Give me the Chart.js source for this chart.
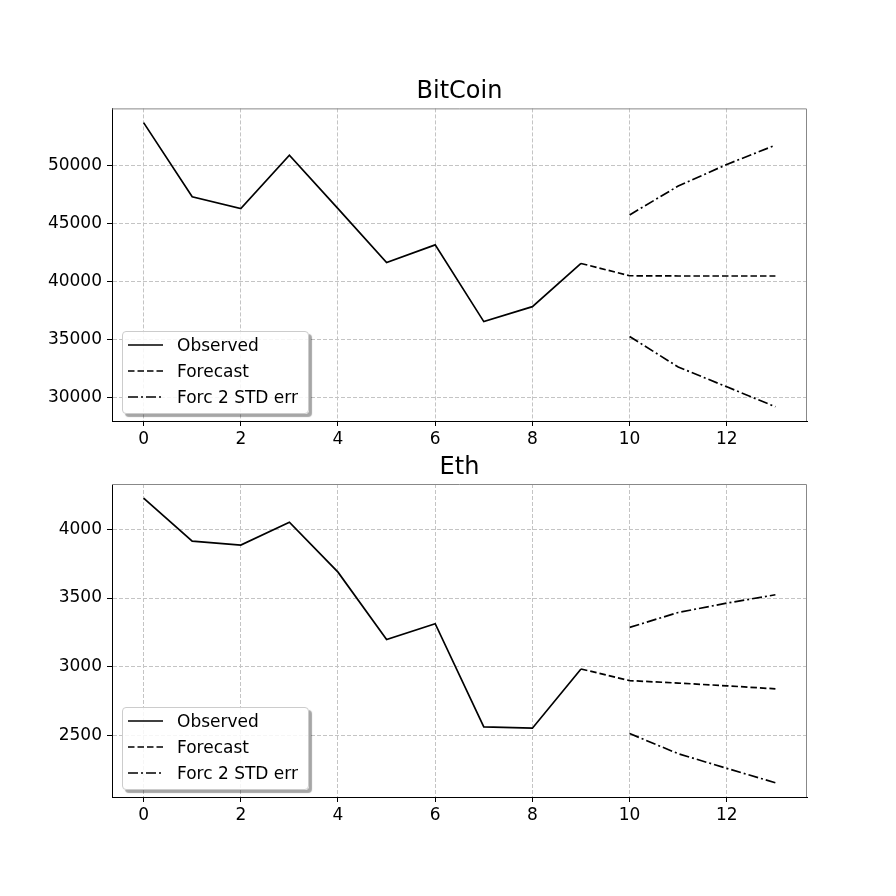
<!DOCTYPE html>
<html>
<head>
<meta charset="utf-8">
<script src="https://cdn.jsdelivr.net/npm/chart.js@4"></script>
<style>
  body { margin: 0; background: #fff; }
  #wrap { position: relative; width: 896px; height: 896px; }
  canvas { position: absolute; left: 0; }
  .legend { position: absolute; left: 122px; width: 187px; height: 83px; box-sizing: border-box;
    border: 1px solid #ccc; border-radius: 4px; background: rgba(255,255,255,0.85);
    box-shadow: 3px 3px 1px rgba(0,0,0,0.35); font: 17px 'DejaVu Sans'; color: #000; }
  .legend div { height: 26px; display: flex; align-items: center; white-space: nowrap; }
  .legend svg { margin-left: 5px; margin-right: 14px; }
</style>
</head>
<body>
<div id="wrap">
  <canvas id="btc" width="896" height="448" style="top:0"></canvas>
  <canvas id="eth" width="896" height="448" style="top:448px"></canvas>
  <div id="btcLegend" class="legend" style="top:331px"></div>
  <div id="ethLegend" class="legend" style="top:707px"></div>
</div>
<script>
// data
var xTicks = [0, 2, 4, 6, 8, 10, 12];
var obsSteps = [0, 1, 2, 3, 4, 5, 6, 7, 8, 9];
var forcSteps = [10, 11, 12, 13];

var btcObserved = [53665, 47280, 46250, 50860, 46250, 41610, 43130, 36520, 37810, 41530];
var btcForecast = [40470, 40450, 40450, 40450];
var btcUpper = [45710, 48200, 50060, 51720];
var btcLower = [35240, 32610, 30900, 29180];
var btcTicks = [30000, 35000, 40000, 45000, 50000];

var ethObserved = [4228, 3915, 3886, 4053, 3689, 3197, 3313, 2560, 2551, 2983];
var ethForecast = [2898, 2880, 2860, 2838];
var ethUpper = [3286, 3395, 3463, 3524];
var ethLower = [2512, 2365, 2258, 2153];
var ethTicks = [2500, 3000, 3500, 4000];

Chart.defaults.font.family = "'DejaVu Sans'";
Chart.defaults.font.size = 17;
Chart.defaults.color = '#000';

var solid = [];
var dashed = [6.5, 3];
var dashdot = [10, 3, 2, 3];

function pts(xs, ys) {
  return ys.map(function(v, i) { return { x: xs[i], y: v }; });
}

// box top/right (left & bottom come from the axes)
var framePlugin = {
  id: 'frame',
  afterDatasetsDraw: function(chart) {
    var a = chart.chartArea, ctx = chart.ctx;
    ctx.save();
    ctx.lineWidth = 1;
    ctx.strokeStyle = '#888';
    ctx.beginPath();
    ctx.moveTo(a.left, a.top + 0.5);
    ctx.lineTo(a.right - 0.5, a.top + 0.5);
    ctx.lineTo(a.right - 0.5, a.bottom);
    ctx.stroke();
    ctx.restore();
  }
};

function lineSet(label, data, dash, inLegend) {
  return {
    label: label,
    data: data,
    borderColor: '#000',
    borderWidth: 1.7,
    borderDash: dash,
    pointRadius: 0,
    tension: 0,
    fill: false,
    inLegend: inLegend
  };
}

function makeChart(id, legendId, title, observed, forecast, upper, lower, yTicks, pad) {
  var all = observed.concat(forecast, upper, lower);
  var lo = Math.min.apply(null, all), hi = Math.max.apply(null, all);
  var m = (hi - lo) * 0.05;

  var datasets = [
    lineSet('Observed', pts(obsSteps, observed), solid, true),
    lineSet('Forecast', [{ x: 9, y: observed[9] }].concat(pts(forcSteps, forecast)), dashed, true),
    lineSet('Forc 2 STD err', pts(forcSteps, upper), dashdot, true),
    lineSet('Forc 2 STD err', pts(forcSteps, lower), dashdot, false)
  ];

  var chart = new Chart(document.getElementById(id), {
    type: 'line',
    data: { datasets: datasets },
    options: {
      responsive: false,
      animation: false,
      layout: { padding: { left: 0, right: 89, top: pad.top, bottom: pad.bottom } },
      scales: {
        x: {
          type: 'linear',
          min: -0.65,
          max: 13.65,
          afterBuildTicks: function(s) { s.ticks = xTicks.map(function(v) { return { value: v }; }); },
          afterFit: function(s) { s.height = 27; },
          ticks: { padding: 3, maxRotation: 0, color: '#000' },
          grid: { color: '#c4c4c4', lineWidth: 1, tickLength: 5, tickColor: '#000', tickBorderDash: [] },
          border: { display: true, color: '#000', width: 1, dash: [4, 2] }
        },
        y: {
          type: 'linear',
          min: lo - m,
          max: hi + m,
          afterBuildTicks: function(s) { s.ticks = yTicks.map(function(v) { return { value: v }; }); },
          afterFit: function(s) { s.width = 112; },
          ticks: { padding: 5, color: '#000', callback: function(v) { return String(v); } },
          grid: { color: '#c4c4c4', lineWidth: 1, tickLength: 5, tickColor: '#000', tickBorderDash: [] },
          border: { display: true, color: '#000', width: 1, dash: [4, 2] }
        }
      },
      plugins: {
        legend: { display: false },
        tooltip: { enabled: false },
        title: {
          display: true,
          text: title,
          fullSize: false,
          color: '#000',
          font: { size: 24, weight: 'normal' },
          padding: { top: 0, bottom: pad.title }
        }
      }
    },
    plugins: [framePlugin]
  });

  // legend drawn in the axes, lower left
  var box = document.getElementById(legendId);
  chart.data.datasets.forEach(function(ds) {
    if (!ds.inLegend) return;
    var row = document.createElement('div');
    row.innerHTML = '<svg width="35" height="4"><line x1="0" y1="2" x2="35" y2="2" stroke="#000" stroke-width="1.7" stroke-dasharray="' +
      (ds.borderDash.length ? ds.borderDash.join(',') : 'none') + '"/></svg><span></span>';
    row.querySelector('span').textContent = ds.label;
    box.appendChild(row);
  });
  return chart;
}

window.onload = function() {
  makeChart('btc', 'btcLegend', 'BitCoin', btcObserved, btcForecast, btcUpper, btcLower, btcTicks,
    { top: 77, bottom: 0, title: 2.6 });
  makeChart('eth', 'ethLegend', 'Eth', ethObserved, ethForecast, ethUpper, ethLower, ethTicks,
    { top: 5, bottom: 72, title: 2.2 });
};
</script>
</body>
</html>
